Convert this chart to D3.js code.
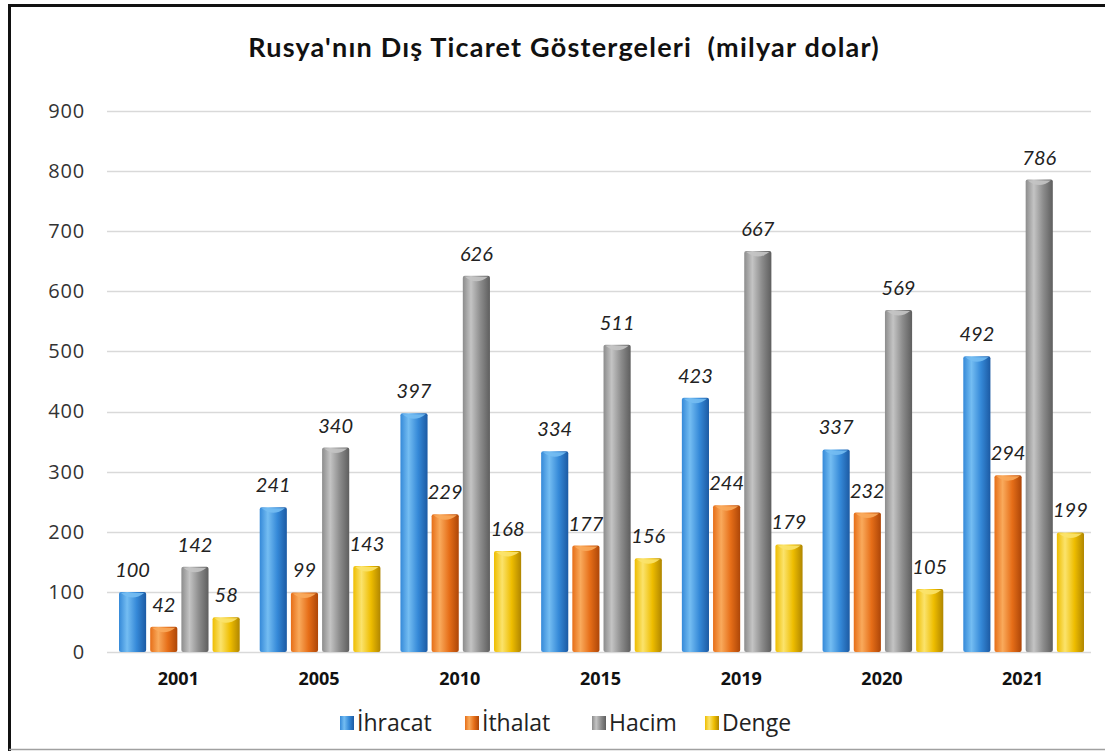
<!DOCTYPE html>
<html>
<head>
<meta charset="utf-8">
<script src="https://cdn.jsdelivr.net/npm/d3@7"></script>
<style>
  body { margin: 0; background: #fff; }
  svg { display: block; font-family: Lato, "Open Sans", sans-serif; }
</style>
</head>
<body>
<div id="chart"></div>
<script>
/* Rusya dis ticaret - grouped bars */

const years = ["2001", "2005", "2010", "2015", "2019", "2020", "2021"];
const seriesNames = ["İhracat", "İthalat", "Hacim", "Denge"];
const ihracat = [100, 241, 397, 334, 423, 337, 492];
const ithalat = [42, 99, 229, 177, 244, 232, 294];
const hacim = [142, 340, 626, 511, 667, 569, 786];
const denge = [58, 143, 168, 156, 179, 105, 199];
const yTicks = [0, 100, 200, 300, 400, 500, 600, 700, 800, 900];

const values = [ihracat, ithalat, hacim, denge];
const colors = [
    {dark: "#1c5aa3", mid: "#3589d8", light: "#74bdf2"},
    {dark: "#ad4608", mid: "#e66e18", light: "#f9aa5c"},
    {dark: "#5e5e5e", mid: "#8c8c8c", light: "#c4c4c4"},
    {dark: "#b08600", mid: "#eebd00", light: "#fbe36c"}
];

const width = 1105, height = 751;

const data = years.map((yr, i) => ({
    year: yr,
    vals: seriesNames.map((s, j) => ({key: s, idx: j, value: values[j][i]}))
}));

const svg = d3.select("#chart").append("svg")
    .attr("width", width).attr("height", height);

const defs = svg.append("defs");
colors.forEach((c, j) => {
    let g = defs.append("linearGradient").attr("id", "grad" + j)
        .attr("x1", 0).attr("x2", 1).attr("y1", 0).attr("y2", 0);
    g.append("stop").attr("offset", "0%").attr("stop-color", c.mid);
    g.append("stop").attr("offset", "30%").attr("stop-color", c.light);
    g.append("stop").attr("offset", "65%").attr("stop-color", c.mid);
    g.append("stop").attr("offset", "100%").attr("stop-color", c.dark);
});

// frame
svg.append("path")
    .attr("d", `M9.5,${height} V5.5 H${width}`)
    .attr("fill", "none").attr("stroke", "#111").attr("stroke-width", 3);
svg.append("line")
    .attr("x1", 9).attr("x2", width).attr("y1", 749.5).attr("y2", 749.5)
    .attr("stroke", "#a0a0a0").attr("stroke-width", 1.5);

svg.append("text")
    .attr("x", 564).attr("y", 57)
    .attr("text-anchor", "middle")
    .style("white-space", "pre")
    .attr("font-size", 27).attr("font-weight", "bold").attr("fill", "#111")
    .attr("letter-spacing", 1.2)
    .text("Rusya'nın Dış Ticaret Göstergeleri  (milyar dolar)");

const x0 = d3.scaleBand().domain(years).range([108, 1093]);
const x1 = d3.scaleBand().domain(seriesNames)
    .range([11, x0.bandwidth() - 9]).paddingInner(0.13);
const y = d3.scaleLinear().domain([0, 900]).range([652, 111]);

// grid
svg.append("g").selectAll("line").data(yTicks).join("line")
    .attr("x1", 107).attr("x2", 1091)
    .attr("y1", d => Math.round(y(d)) + 0.5).attr("y2", d => Math.round(y(d)) + 0.5)
    .attr("stroke", "#d9d9d9").attr("stroke-width", 1.5);

const yAxis = svg.append("g")
    .attr("transform", "translate(85,0)")
    .call(d3.axisLeft(y).tickValues(yTicks).tickSize(0).tickPadding(0));
yAxis.select(".domain").remove();
yAxis.selectAll("text")
    .attr("font-family", "'Open Sans', sans-serif")
    .attr("font-size", 20).attr("letter-spacing", 0.8).attr("fill", "#333");

const xAxis = svg.append("g")
    .attr("transform", "translate(0,667)")
    .call(d3.axisBottom(x0).tickSize(0).tickPadding(5));
xAxis.select(".domain").remove();
xAxis.selectAll("text")
    .attr("font-family", "'Open Sans', sans-serif")
    .attr("font-size", 18).attr("font-weight", "bold").attr("fill", "#111");

const group = svg.selectAll(".grp").data(data).join("g")
    .attr("class", "grp")
    .attr("transform", d => `translate(${x0(d.year)},0)`);

let bar = group.selectAll(".bar").data(d => d.vals).join("g").attr("class", "bar");

bar.append("rect")
    .attr("x", d => x1(d.key))
    .attr("y", d => y(d.value))
    .attr("width", x1.bandwidth())
    .attr("height", d => y(0) - y(d.value))
    .attr("rx", 2)
    .attr("fill", d => `url(#grad${d.idx})`);

// bevel at bar top
bar.append("path")
    .attr("d", d => {
        let bx = x1(d.key), bw = x1.bandwidth(), t = y(d.value);
        return `M${bx + 2},${t + 1} H${bx + bw - 2} Q${bx + bw / 2},${t + 10} ${bx + 2},${t + 1} Z`;
    })
    .attr("fill", d => colors[d.idx].light)
    .attr("opacity", 0.9);

bar.append("text")
    .attr("x", d => x1(d.key) + x1.bandwidth() / 2)
    .attr("y", d => y(d.value) - 15)
    .attr("text-anchor", "middle")
    .attr("font-size", 20).attr("font-style", "italic").attr("fill", "#222")
    .text(d => d.value);

// legend
const legendX = [340, 465, 592, 705];
const legend = svg.append("g").selectAll("g").data(seriesNames).join("g")
    .attr("transform", (d, i) => `translate(${legendX[i]},716)`);
legend.append("rect")
    .attr("width", 14).attr("height", 14)
    .attr("fill", (d, i) => `url(#grad${i})`);
legend.append("text")
    .attr("x", 17).attr("y", 15)
    .attr("font-family", "'Open Sans', sans-serif")
    .attr("font-size", 23).attr("fill", "#222")
    .text(d => d);
</script>
</body>
</html>
